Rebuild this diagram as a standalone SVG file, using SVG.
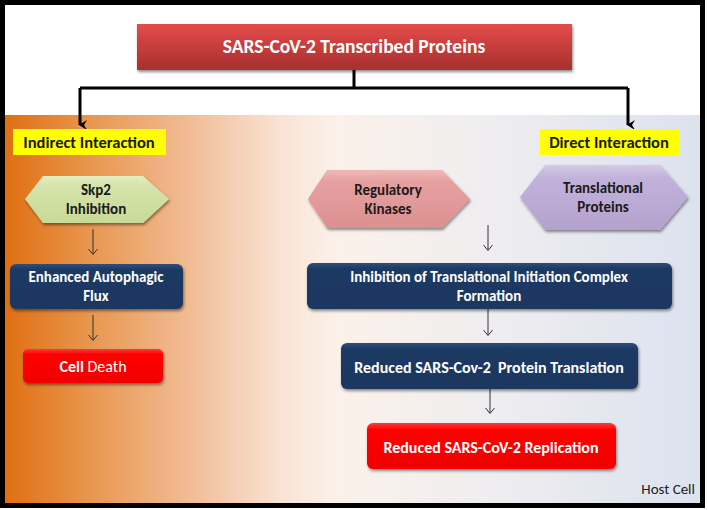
<svg xmlns="http://www.w3.org/2000/svg" width="708" height="510" viewBox="0 0 708 510">
<defs>
<linearGradient id="bg" x1="5" y1="0" x2="700" y2="0" gradientUnits="userSpaceOnUse">
<stop offset="0" stop-color="#E06F12"/>
<stop offset="0.12" stop-color="#E8964E"/>
<stop offset="0.28" stop-color="#F2C09C"/>
<stop offset="0.40" stop-color="#F9E4D6"/>
<stop offset="0.48" stop-color="#FBF1EA"/>
<stop offset="0.70" stop-color="#EFEDF0"/>
<stop offset="1" stop-color="#DCE2EE"/>
</linearGradient>
<linearGradient id="gTitle" x1="0" y1="0" x2="0" y2="1">
<stop offset="0" stop-color="#E44C4C"/>
<stop offset="0.5" stop-color="#C83C3C"/>
<stop offset="1" stop-color="#A53030"/>
</linearGradient>
<linearGradient id="gNavy" x1="0" y1="0" x2="0" y2="1">
<stop offset="0" stop-color="#2E4E80"/>
<stop offset="0.12" stop-color="#1F3A64"/>
<stop offset="1" stop-color="#1D3760"/>
</linearGradient>
<linearGradient id="gRed" x1="0" y1="0" x2="0" y2="1">
<stop offset="0" stop-color="#FF3A3A"/>
<stop offset="0.15" stop-color="#FF0000"/>
<stop offset="1" stop-color="#F00000"/>
</linearGradient>
<linearGradient id="gGreen" x1="0" y1="0" x2="0" y2="1">
<stop offset="0" stop-color="#E4EEC4"/>
<stop offset="0.2" stop-color="#D6E4AC"/>
<stop offset="1" stop-color="#C8DA96"/>
</linearGradient>
<linearGradient id="gPink" x1="0" y1="0" x2="0" y2="1">
<stop offset="0" stop-color="#F0B8B8"/>
<stop offset="0.2" stop-color="#E6A0A0"/>
<stop offset="1" stop-color="#DC9090"/>
</linearGradient>
<linearGradient id="gPurple" x1="0" y1="0" x2="0" y2="1">
<stop offset="0" stop-color="#D6CAE6"/>
<stop offset="0.2" stop-color="#C2B2DA"/>
<stop offset="1" stop-color="#B4A2CE"/>
</linearGradient>
<filter id="sh" x="-10%" y="-20%" width="120%" height="150%">
<feDropShadow dx="1" dy="2" stdDeviation="1.5" flood-color="#000" flood-opacity="0.45"/>
</filter>
<marker id="thick" markerWidth="12" markerHeight="12" refX="6" refY="10" orient="auto-start-reverse" markerUnits="userSpaceOnUse" viewBox="0 0 12 12">
<path d="M1,3 L6,11 L11,3 L6,6 Z" fill="#000"/>
</marker>
<marker id="thin" markerWidth="12" markerHeight="10" refX="6" refY="8" markerUnits="userSpaceOnUse" viewBox="0 0 12 10">
<path d="M1.5,3 L6,8.5 L10.5,3" fill="none" stroke="#333" stroke-width="1"/>
</marker>
</defs>
<style>
.t{font-family:"Carlito","Lato","Liberation Sans",sans-serif;font-weight:bold;text-anchor:middle}
.w{fill:#fff;font-size:16px}
.d{fill:#1a1a1a;font-size:16px}
.two{font-size:15px}
.thin{stroke:#333;stroke-width:1;fill:none;marker-end:url(#thin)}
.thick{stroke:#000;stroke-width:3;fill:none}
</style>
<rect x="0" y="0" width="708" height="510" fill="#fff"/>
<rect x="5" y="115" width="695" height="388" fill="url(#bg)"/>
<rect x="2.5" y="2.5" width="700" height="503" fill="none" stroke="#000" stroke-width="5"/>

<g id="connectors">
<path class="thick" d="M354,70 V88 M80,88 H628"/>
<path class="thick" d="M80,88 V125" marker-end="url(#thick)"/>
<path class="thick" d="M628,88 V125" marker-end="url(#thick)"/>
<path class="thin" d="M93,229 V254"/>
<path class="thin" d="M93,315 V340"/>
<path class="thin" d="M488,225 V250"/>
<path class="thin" d="M488,309 V335"/>
<path class="thin" d="M490,389 V413"/>
</g>

<g id="title">
<rect x="137" y="24" width="435" height="46" fill="url(#gTitle)" filter="url(#sh)"/>
<text class="t w" x="354" y="53" style="font-size:19.5px">SARS-CoV-2 Transcribed Proteins</text>
</g>

<g id="indirect">
<rect x="13" y="129" width="153" height="26" fill="#FFFF00"/>
<text class="t d" x="89" y="148" style="font-size:16.5px">Indirect Interaction</text>
</g>
<g id="direct">
<rect x="540" y="129" width="139" height="26" fill="#FFFF00"/>
<text class="t d" x="609" y="148" style="font-size:16.5px">Direct Interaction</text>
</g>

<g id="skp2">
<polygon points="25,199 43,176 143,176 169,199 143,223 43,223" fill="url(#gGreen)" filter="url(#sh)"/>
<text class="t d two" x="96" y="195">Skp2<tspan x="96" dy="18.5">Inhibition</tspan></text>
</g>

<g id="kinases">
<polygon points="308,199 327,170 442,170 470,199 442,228 327,228" fill="url(#gPink)" filter="url(#sh)"/>
<text class="t d two" x="388" y="195">Regulatory<tspan x="388" dy="18.5">Kinases</tspan></text>
</g>

<g id="translational">
<polygon points="520,197 545,165 660,165 688,197 660,230 545,230" fill="url(#gPurple)" filter="url(#sh)"/>
<text class="t d two" x="603" y="193">Translational<tspan x="603" dy="18.5">Proteins</tspan></text>
</g>

<g id="autophagic">
<rect x="10" y="264" width="173" height="45" rx="6" fill="url(#gNavy)" filter="url(#sh)"/>
<text class="t w two" x="96" y="282">Enhanced Autophagic<tspan x="96" dy="18.5">Flux</tspan></text>
</g>

<g id="celldeath">
<rect x="23" y="349" width="140" height="34" rx="5" fill="url(#gRed)" filter="url(#sh)"/>
<text class="t w" x="93" y="372">Cell <tspan font-weight="normal">Death</tspan></text>
</g>

<g id="inhibition">
<rect x="307" y="263" width="365" height="46" rx="6" fill="url(#gNavy)" filter="url(#sh)"/>
<text class="t w two" x="489" y="282">Inhibition of Translational Initiation Complex<tspan x="489" dy="18.5">Formation</tspan></text>
</g>

<g id="reducedtranslation">
<rect x="341" y="343" width="297" height="46" rx="6" fill="url(#gNavy)" filter="url(#sh)"/>
<text class="t w" x="489" y="373" xml:space="preserve">Reduced SARS-Cov-2  Protein Translation</text>
</g>

<g id="replication">
<rect x="367" y="423" width="249" height="46" rx="6" fill="url(#gRed)" filter="url(#sh)"/>
<text class="t w" x="491" y="453">Reduced SARS-CoV-2 Replication</text>
</g>

<text x="695" y="494" font-family="Carlito,Lato,'Liberation Sans',sans-serif" font-size="15" fill="#222" text-anchor="end">Host Cell</text>
</svg>
